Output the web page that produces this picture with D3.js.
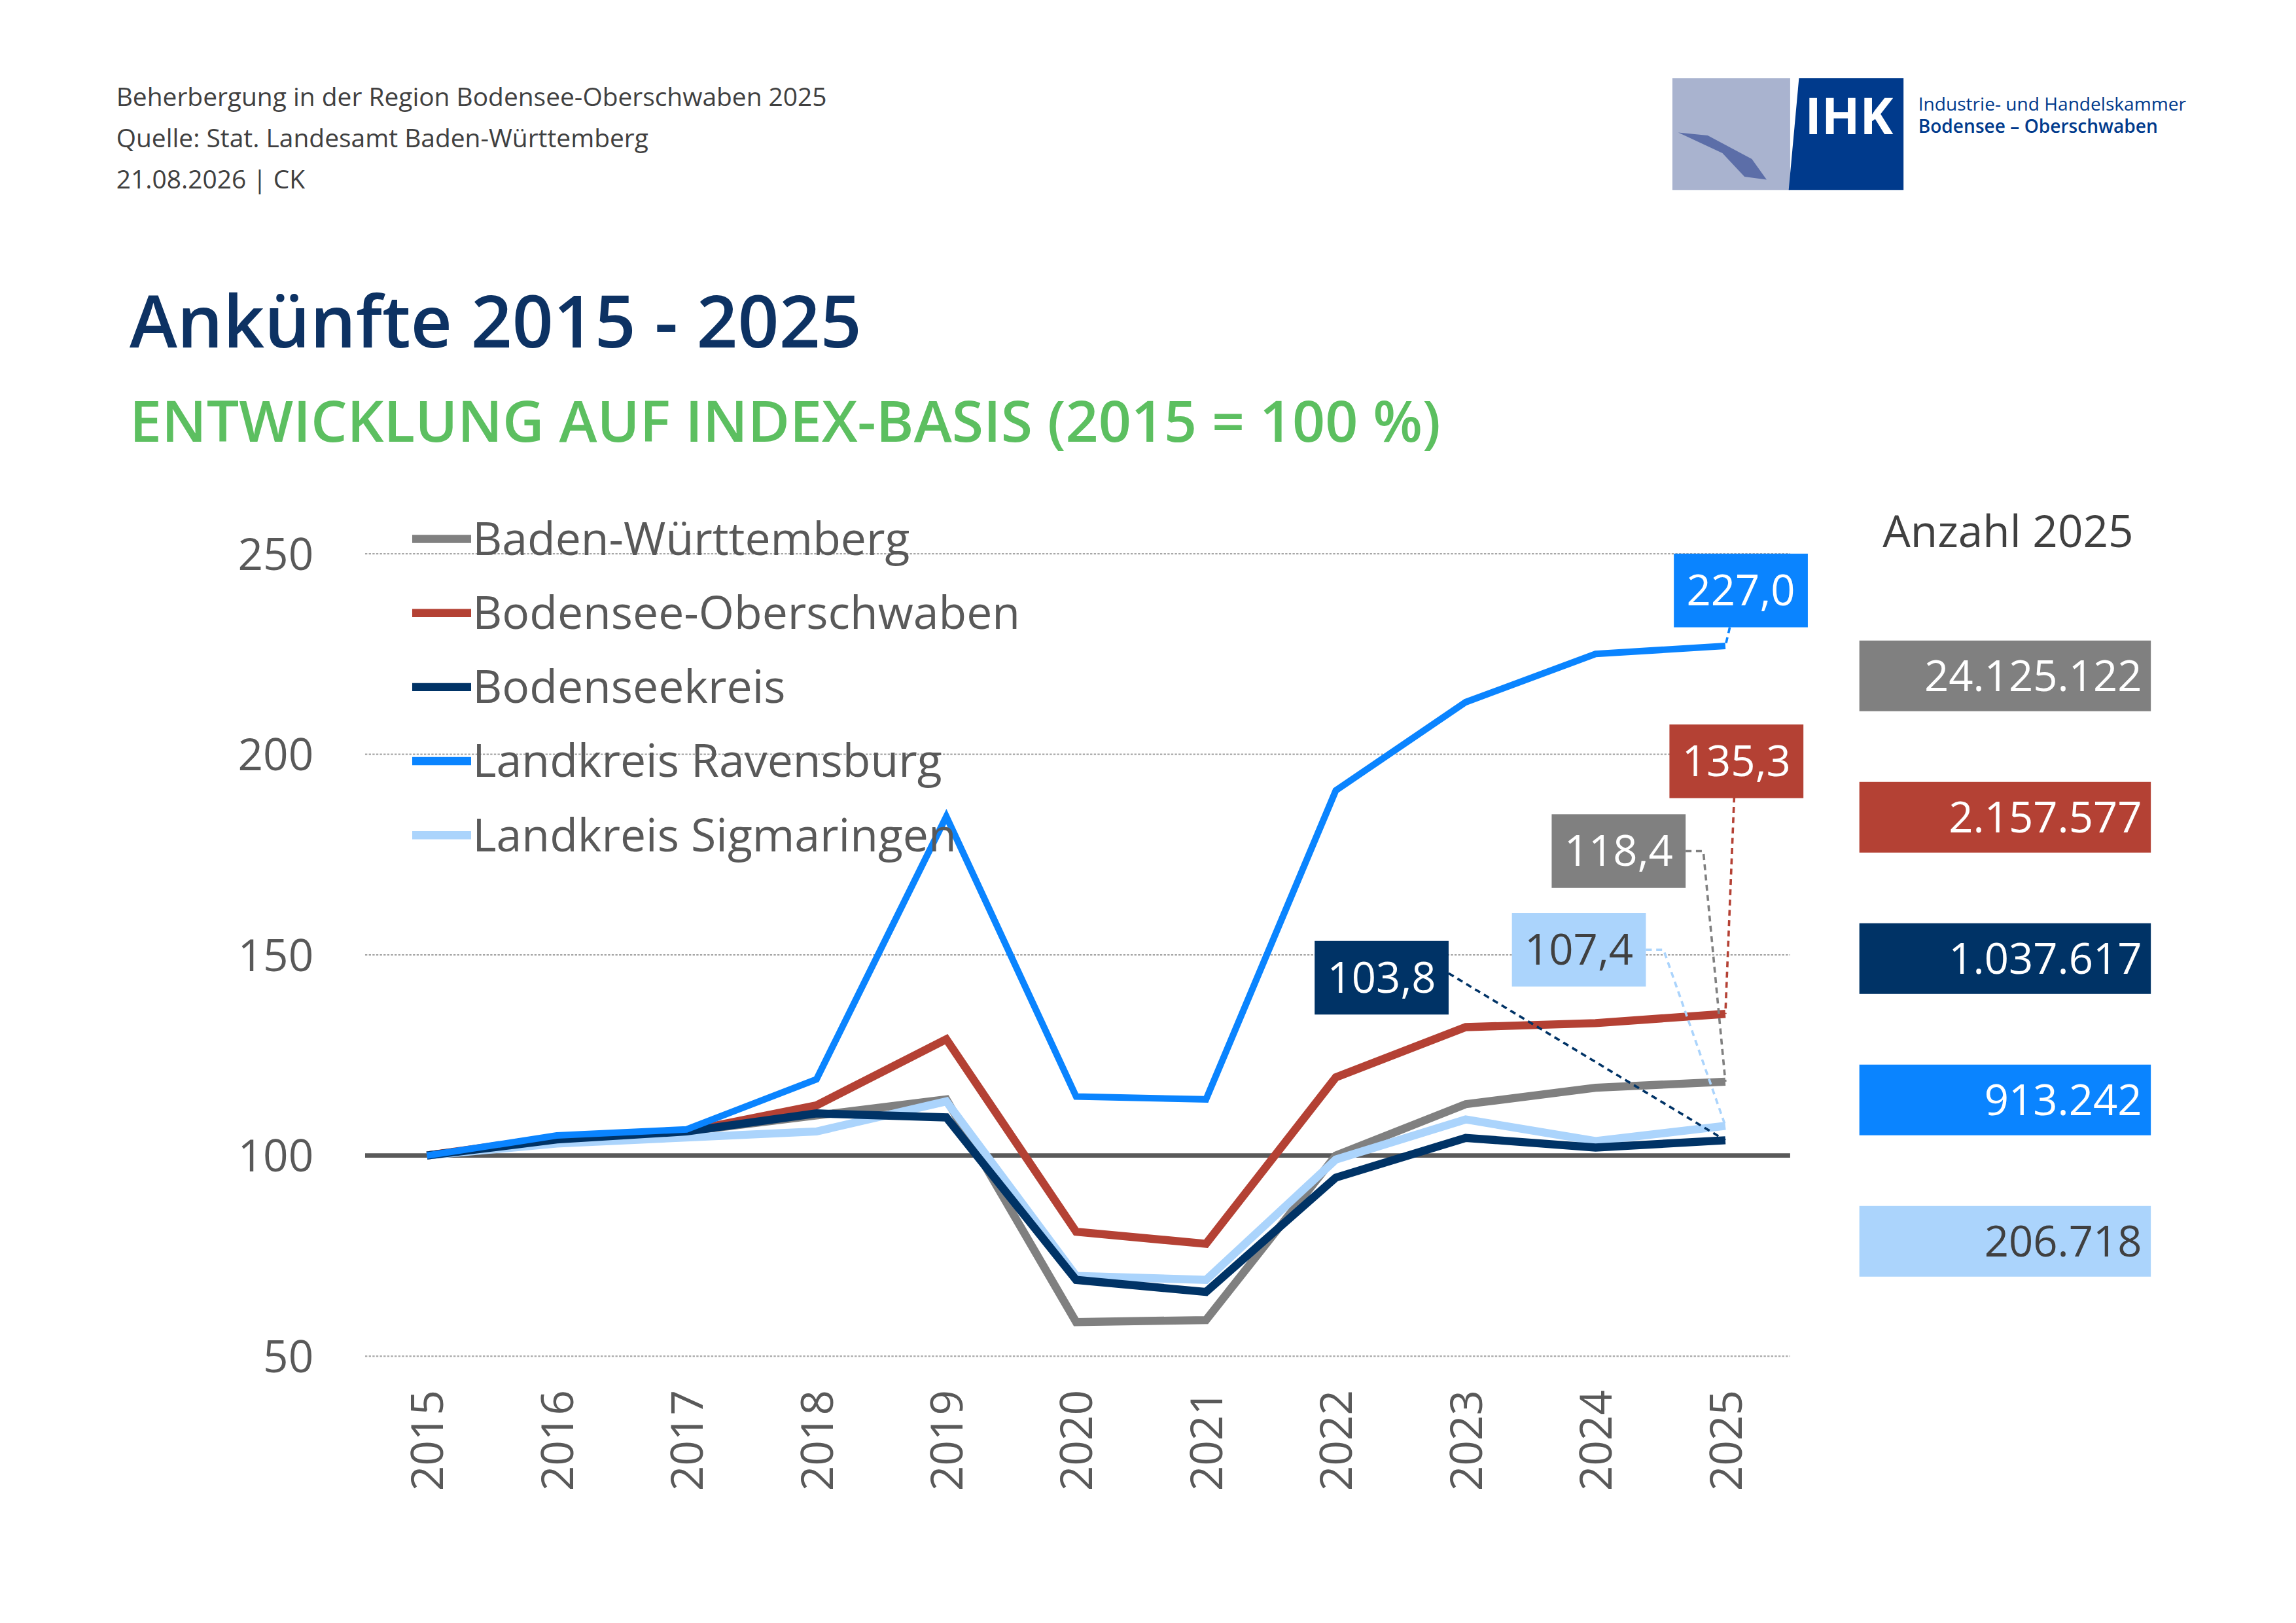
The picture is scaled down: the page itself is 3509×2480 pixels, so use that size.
<!DOCTYPE html>
<html><head><meta charset="utf-8">
<script src="https://cdn.jsdelivr.net/npm/d3@7"></script>
<style>body{margin:0;background:#fff}svg{display:block}</style>
</head><body>
<svg id="c" width="3509" height="2480" viewBox="0 0 1559.6 1102.2"></svg>
<script>
const years = [2015, 2016, 2017, 2018, 2019, 2020, 2021, 2022, 2023, 2024, 2025];
const seriesNames = ['Baden-Württemberg', 'Bodensee-Oberschwaben', 'Bodenseekreis', 'Landkreis Ravensburg', 'Landkreis Sigmaringen'];
const bw = [100, 104, 106, 110, 114, 58.5, 59, 100, 112.8, 116.9, 118.4];
const bo = [100, 104.5, 106, 112.5, 129, 81, 78, 119.5, 132, 133, 135.3];
const bk = [100, 104, 106, 110.5, 109.5, 69, 66, 94.5, 104.4, 102, 103.8];
const rv = [100, 105, 106.5, 119, 184.5, 114.7, 114, 191, 213, 225, 227.0];
const sig = [100, 103, 104.5, 106, 113.5, 70, 69, 99, 109, 103.6, 107.4];
const counts2025 = ['24.125.122', '2.157.577', '1.037.617', '913.242', '206.718'];
const yTicks = [50, 100, 150, 200, 250];
const colors = ['#808080', '#b44134', '#003366', '#0a84ff', '#abd4fc'];
const values = [bw, bo, bk, rv, sig];

const svg = d3.select('#c');
const font = "'Open Sans', 'Noto Sans', sans-serif";

// header
const hdr = ['Beherbergung in der Region Bodensee-Oberschwaben 2025', 'Quelle: Stat. Landesamt Baden-Württemberg', '21.08.2026 | CK'];
hdr.forEach((t, i) => svg.append('text').attr('x', 79).attr('y', 72 + i * 28)
  .attr('font-family', font).attr('font-size', 17.3).attr('fill', '#404040').text(t));
svg.append('text').attr('x', 88).attr('y', 236).attr('font-family', font).attr('font-size', 49)
  .attr('font-weight', 600).attr('fill', '#0d3263').text('Ankünfte 2015 - 2025');
svg.append('text').attr('x', 88).attr('y', 300).attr('font-family', font).attr('font-size', 39)
  .attr('font-weight', 600).attr('fill', '#5cbf60').text('ENTWICKLUNG AUF INDEX-BASIS (2015 = 100 %)');

// logo
const lg = svg.append('g');
lg.append('rect').attr('x', 1136).attr('y', 53).attr('width', 80).attr('height', 76).attr('fill', '#a9b3cf');
lg.append('path').attr('d', 'M1140,90 L1170,104 L1185,120 L1200,122 L1190,108 L1160,92 Z').attr('fill', '#5c6ea8');
lg.append('path').attr('d', 'M1222,53 L1293,53 L1293,129 L1215,129 Z').attr('fill', '#003a8c');
lg.append('text').attr('x', 1256).attr('y', 91).attr('text-anchor', 'middle').attr('font-family', font)
  .attr('font-size', 34).attr('font-weight', 700).attr('fill', '#fff').text('IHK');
lg.append('text').attr('x', 1303).attr('y', 75).attr('font-family', font).attr('font-size', 12.5).attr('fill', '#003a8c').text('Industrie- und Handelskammer');
lg.append('text').attr('x', 1303).attr('y', 90).attr('font-family', font).attr('font-size', 12.5).attr('font-weight', 600).attr('fill', '#003a8c').text('Bodensee – Oberschwaben');

// chart
const x = d3.scalePoint().domain(years).range([290, 1172]);
const y = d3.scaleLinear().domain([50, 250]).range([921, 376]);

svg.append('g').selectAll('line').data(yTicks).join('line')
  .attr('x1', 248).attr('x2', 1216).attr('y1', d => y(d)).attr('y2', d => y(d))
  .attr('stroke', d => d === 100 ? '#595959' : '#a6a6a6')
  .attr('stroke-width', d => d === 100 ? 3 : 1)
  .attr('stroke-dasharray', d => d === 100 ? null : '1.5,1');

const yAxis = svg.append('g').attr('transform', 'translate(213,0)')
  .call(d3.axisLeft(y).tickValues(yTicks).tickSize(0).tickPadding(0));
yAxis.select('.domain').remove();
yAxis.selectAll('text').attr('font-family', font).attr('font-size', 30).attr('fill', '#595959').attr('dy', '0.35em');

const xAxis = svg.append('g').attr('transform', 'translate(0,942)')
  .call(d3.axisBottom(x).tickSize(0).tickFormat(d3.format('d')));
xAxis.select('.domain').remove();
xAxis.selectAll('text').attr('font-family', font).attr('font-size', 30).attr('fill', '#595959')
  .attr('transform', 'rotate(-90)').attr('text-anchor', 'end').attr('x', -2).attr('y', 0).attr('dy', '0.35em');

const line = d3.line().x((d, i) => x(years[i])).y(d => y(d));
[0, 1, 4, 2, 3].forEach(k => {
  svg.append('path').datum(values[k]).attr('d', line).attr('fill', 'none')
    .attr('stroke', colors[k]).attr('stroke-width', k === 3 ? 4.5 : 5.5).attr('stroke-linejoin', 'miter');
});

// legend
seriesNames.forEach((n, i) => {
  const ly = 366 + i * 50.3;
  svg.append('line').attr('x1', 280).attr('x2', 320).attr('y1', ly).attr('y2', ly)
    .attr('stroke', colors[i]).attr('stroke-width', 5.5);
  svg.append('text').attr('x', 321).attr('y', ly).attr('dy', '0.35em').attr('font-family', font)
    .attr('font-size', 31).attr('fill', '#595959').text(n);
});

// value labels at 2025
const fmt = v => v.toFixed(1).replace('.', ',');
const boxes = [
  { k: 3, x: 1137, y: 376, bend: null },
  { k: 1, x: 1134, y: 492, bend: [1178, 541] },
  { k: 0, x: 1054, y: 553, bend: [1157, 578] },
  { k: 4, x: 1027, y: 620, bend: [1130, 645] },
  { k: 2, x: 893, y: 639, bend: null }
];
const last = years.length - 1;
boxes.forEach(b => {
  const v = values[b.k][last], px = x(years[last]), py = y(v);
  const w = 91, h = 50;
  let pts;
  if (b.k === 3) pts = [[b.x + 38, b.y + h], [px, py]];
  else if (b.k === 2) pts = [[b.x + w, b.y + 22], [px, py]];
  else if (b.k === 1) pts = [b.bend, [px, py]];
  else pts = [[b.x + w, b.y + 25], b.bend, [px, py]];
  svg.append('path').attr('d', d3.line()(pts)).attr('fill', 'none').attr('stroke', colors[b.k])
    .attr('stroke-width', 1.6).attr('stroke-dasharray', '4,3');
  svg.append('rect').attr('x', b.x).attr('y', b.y).attr('width', w).attr('height', h).attr('fill', colors[b.k]);
  svg.append('text').attr('x', b.x + w / 2).attr('y', b.y + h / 2).attr('dy', '0.35em').attr('text-anchor', 'middle')
    .attr('font-family', font).attr('font-size', 29).attr('fill', b.k === 4 ? '#404040' : '#fff').text(fmt(v));
});

// counts panel
svg.append('text').attr('x', 1364).attr('y', 361).attr('dy', '0.35em').attr('text-anchor', 'middle')
  .attr('font-family', font).attr('font-size', 30).attr('fill', '#404040').text('Anzahl 2025');
counts2025.forEach((c, i) => {
  const by = 435 + i * 96;
  svg.append('rect').attr('x', 1263).attr('y', by).attr('width', 198).attr('height', 48).attr('fill', colors[i]);
  svg.append('text').attr('x', 1455).attr('y', by + 24).attr('dy', '0.35em').attr('text-anchor', 'end')
    .attr('font-family', font).attr('font-size', 29).attr('fill', i === 4 ? '#404040' : '#fff').text(c);
});
</script>
</body></html>
